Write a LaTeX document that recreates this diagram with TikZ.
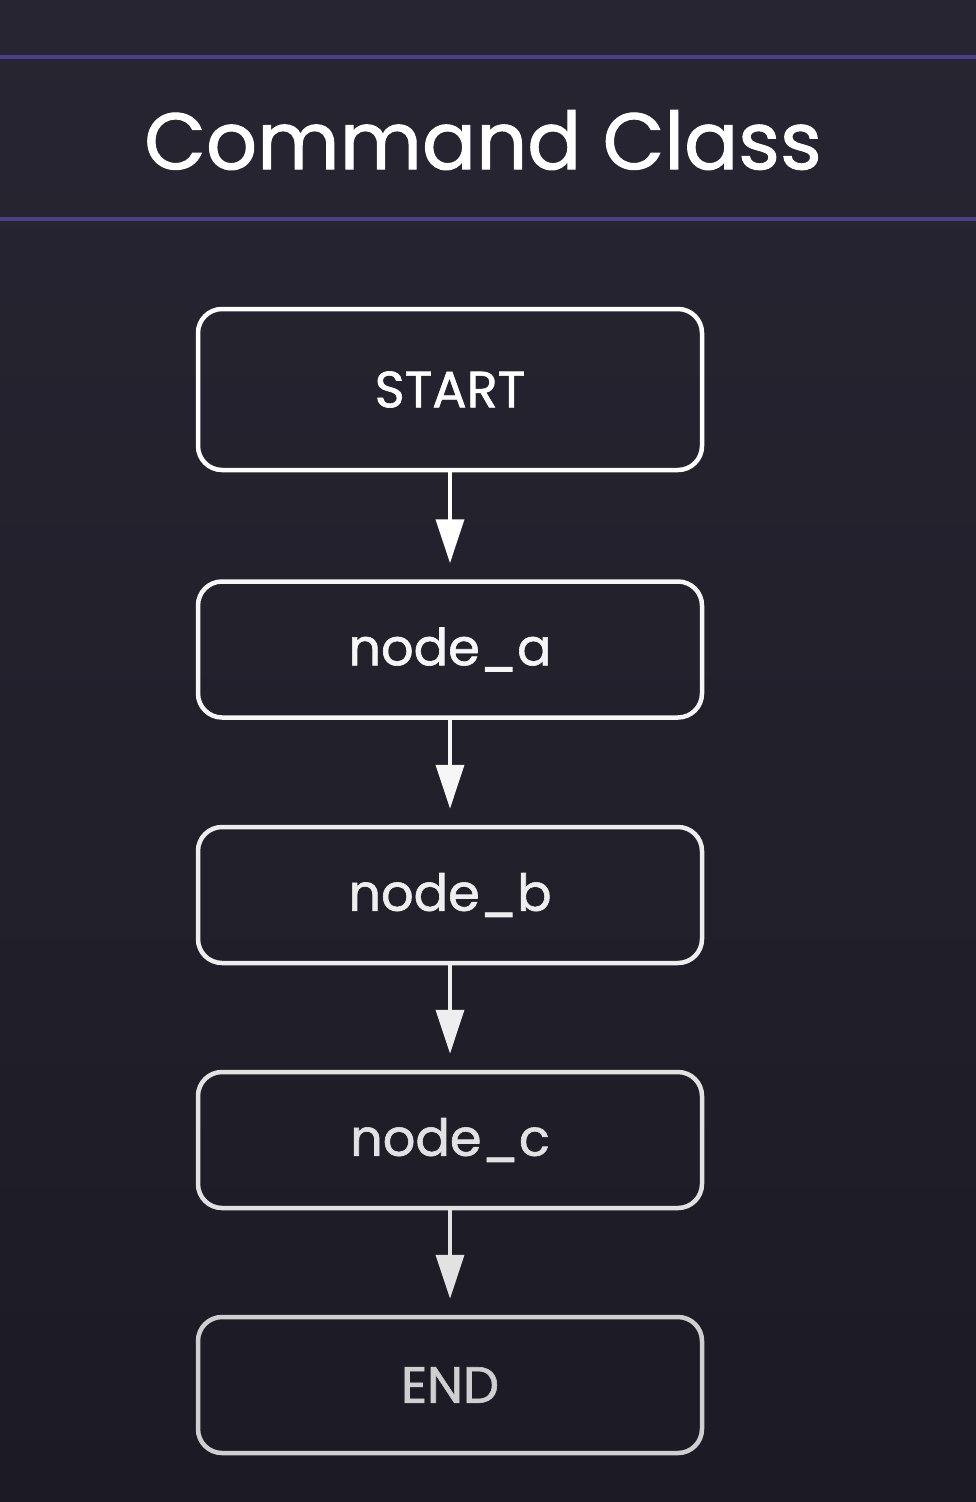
\documentclass[tikz,border=0pt]{standalone}
\usepackage{fontspec}
\setmainfont{Poppins}[FakeBold=1.2]
\usetikzlibrary{arrows.meta}
\definecolor{bgtop}{HTML}{262531}
\definecolor{bgbot}{HTML}{1C1B25}
\definecolor{rule}{HTML}{4B3F8A}
\definecolor{cA}{HTML}{FFFFFF}
\definecolor{cB}{HTML}{F6F6F6}
\definecolor{cC}{HTML}{EEEEEE}
\definecolor{cD}{HTML}{E2E2E2}
\definecolor{cE}{HTML}{CFCFCF}
\tikzset{
  flowbox/.style={draw=#1, text=#1, line width=4.5pt, rounded corners=24pt,
    minimum width=504pt, minimum height=136pt, inner sep=0pt,
    font=\fontsize{51}{60}\selectfont},
  flowarrow/.style={draw=#1, line width=4pt, -{Triangle[width=28pt,length=44pt,fill=#1]}}
}
\begin{document}
\begin{tikzpicture}[x=1pt,y=-1pt]
\useasboundingbox (0,0) rectangle (976,1502);
\shade[top color=bgtop, bottom color=bgbot] (0,0) rectangle (976,1502);
\draw[rule, line width=4pt] (0,57) -- (976,57);
\draw[rule, line width=4pt] (0,219) -- (976,219);
\node (title) at (483,140) [text=white, font=\fontsize{80}{92}\selectfont] {Command Class};
\node (start) at (450,389.5) [flowbox=cA, minimum height=161pt] {START};
\node (na) at (450,649.5) [flowbox=cB] {node\_a};
\node (nb) at (450,895) [flowbox=cC] {node\_b};
\node (nc) at (450,1140) [flowbox=cD] {node\_c};
\node (en) at (450,1385) [flowbox=cE] {END};
\draw[flowarrow=cA] (start.south) -- ([yshift=16pt]na.north);
\draw[flowarrow=cB] (na.south) -- ([yshift=16pt]nb.north);
\draw[flowarrow=cC] (nb.south) -- ([yshift=16pt]nc.north);
\draw[flowarrow=cD] (nc.south) -- ([yshift=16pt]en.north);
\end{tikzpicture}
\end{document}
